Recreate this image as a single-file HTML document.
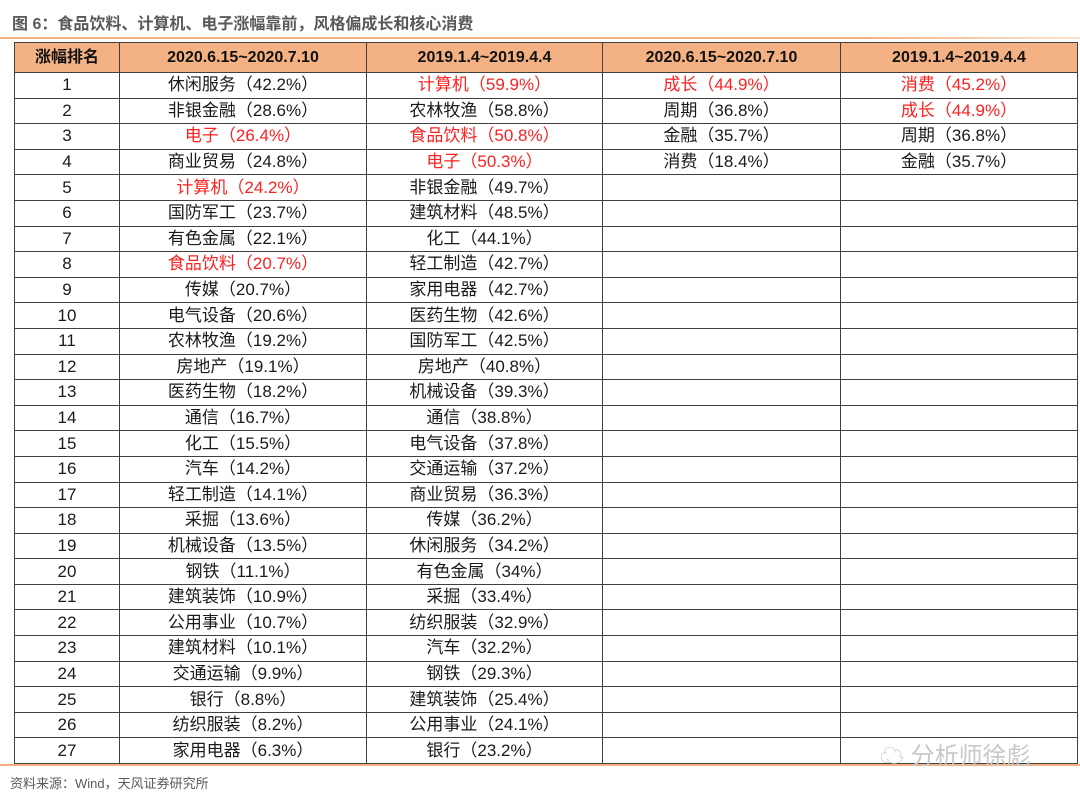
<!DOCTYPE html>
<html><head><meta charset="utf-8"><style>
body{margin:0;width:1080px;height:802px;background:#fff;font-family:"Liberation Sans","Noto Sans CJK SC",sans-serif;position:relative;overflow:hidden}
#title{position:absolute;left:12px;top:10px;font-size:16px;font-weight:bold;color:#595959}
#tline{position:absolute;left:0;top:37px;width:1080px;height:2px;background:linear-gradient(90deg,#f4b183,#f4b183 80%,#fbe3d0)}
table{position:absolute;left:14px;top:42px;border-collapse:collapse;table-layout:fixed}
td,th{border:1px solid #404040;text-align:center;font-size:17px;color:#1a1a1a;padding:0;height:24.6px;line-height:24px;white-space:nowrap}
th{background:#f4b183;font-weight:bold;height:29px;color:#111;font-size:16px}
.r{color:#ff2020}
#bline{position:absolute;left:0;top:764px;width:1080px;height:2px;background:#f4b183}
#src{position:absolute;left:10px;top:773px;font-size:13px;color:#595959}
#wm{position:absolute;left:880px;top:736px;font-size:24px;color:#c8c8c8}
</style></head><body>
<div id="title">图 6：食品饮料、计算机、电子涨幅靠前，风格偏成长和核心消费</div>
<div id="tline"></div>
<table>
<colgroup><col style="width:105px"><col style="width:247px"><col style="width:236px"><col style="width:238px"><col style="width:237px"></colgroup>
<thead><tr><th>涨幅排名</th><th>2020.6.15~2020.7.10</th><th>2019.1.4~2019.4.4</th><th>2020.6.15~2020.7.10</th><th>2019.1.4~2019.4.4</th></tr></thead>
<tbody id="tb"></tbody></table>
<div id="bline"></div>
<div id="src">资料来源：Wind，天风证券研究所</div>
<div id="wm">☁ 分析师徐彪</div>
<script>
const col1=["休闲服务（42.2%）","非银金融（28.6%）","*电子（26.4%）","商业贸易（24.8%）","*计算机（24.2%）","国防军工（23.7%）","有色金属（22.1%）","*食品饮料（20.7%）","传媒（20.7%）","电气设备（20.6%）","农林牧渔（19.2%）","房地产（19.1%）","医药生物（18.2%）","通信（16.7%）","化工（15.5%）","汽车（14.2%）","轻工制造（14.1%）","采掘（13.6%）","机械设备（13.5%）","钢铁（11.1%）","建筑装饰（10.9%）","公用事业（10.7%）","建筑材料（10.1%）","交通运输（9.9%）","银行（8.8%）","纺织服装（8.2%）","家用电器（6.3%）"];
const col2=["*计算机（59.9%）","农林牧渔（58.8%）","*食品饮料（50.8%）","*电子（50.3%）","非银金融（49.7%）","建筑材料（48.5%）","化工（44.1%）","轻工制造（42.7%）","家用电器（42.7%）","医药生物（42.6%）","国防军工（42.5%）","房地产（40.8%）","机械设备（39.3%）","通信（38.8%）","电气设备（37.8%）","交通运输（37.2%）","商业贸易（36.3%）","传媒（36.2%）","休闲服务（34.2%）","有色金属（34%）","采掘（33.4%）","纺织服装（32.9%）","汽车（32.2%）","钢铁（29.3%）","建筑装饰（25.4%）","公用事业（24.1%）","银行（23.2%）"];
const col3=["*成长（44.9%）","周期（36.8%）","金融（35.7%）","消费（18.4%）"];
const col4=["*消费（45.2%）","*成长（44.9%）","周期（36.8%）","金融（35.7%）"];
const tb=document.getElementById('tb');
function cell(tr,v){const td=document.createElement('td');


v=v||'';if(v[0]==='*'){td.className='r';v=v.slice(1);}td.textContent=v;tr.appendChild(td);}
for(let i=0;i<27;i++){const tr=document.createElement('tr');


cell(tr,String(i+1));cell(tr,col1[i]);cell(tr,col2[i]);cell(tr,col3[i]);cell(tr,col4[i]);tb.appendChild(tr);}
</script>
</body></html>
